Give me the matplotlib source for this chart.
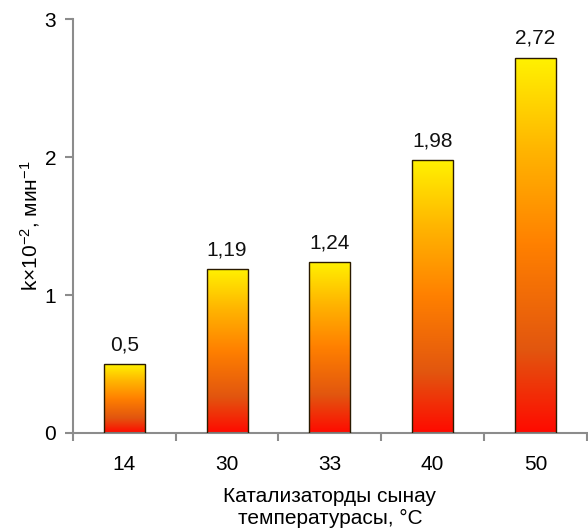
import numpy as np
import matplotlib
matplotlib.use('Agg')
import matplotlib.pyplot as plt
from matplotlib.colors import LinearSegmentedColormap

plt.rcParams['font.family'] = ['Liberation Sans', 'DejaVu Sans']
plt.rcParams['mathtext.fontset'] = 'custom'
plt.rcParams['mathtext.rm'] = 'Liberation Sans'
plt.rcParams['mathtext.it'] = 'Liberation Sans'

temps = ['14', '30', '33', '40', '50']
k_values = [0.5, 1.19, 1.24, 1.98, 2.72]
value_labels = ['0,5', '1,19', '1,24', '1,98', '2,72']

# красный снизу -> оранжевый -> жёлтый сверху
grad = LinearSegmentedColormap.from_list('fire', [
    (0.0, '#ff0a00'),
    (0.22, '#e2560f'),
    (0.5, '#ff8000'),
    (0.75, '#ffb400'),
    (1.0, '#fff200'),
])

fig = plt.figure(figsize=(5.88, 5.29), dpi=100)
ax = fig.add_axes([0.124, 0.1815, 0.874, 0.7825])

x = np.arange(len(temps))
bars = ax.bar(x, k_values, width=0.4, facecolor='none', edgecolor='#2a1a00', linewidth=1.0, zorder=3)

col = np.linspace(0, 1, 256).reshape(-1, 1)
for b in bars:
    x0, y0 = b.get_x(), b.get_y()
    w, h = b.get_width(), b.get_height()
    im = ax.imshow(col, cmap=grad, origin='lower', aspect='auto',
                   extent=[x0, x0 + w, y0, y0 + h], zorder=2)
    im.set_clip_path(b)

for xi, v, s in zip(x, k_values, value_labels):
    ax.annotate(s, (xi, v), xytext=(0, 7), textcoords='offset points',
                ha='center', va='bottom', fontsize=15, color='#111111')

ax.set_xlim(-0.5, len(temps) - 0.5)
ax.set_ylim(0, 3)
ax.set_yticks([0, 1, 2, 3])
ax.set_xticks(x)
ax.set_xticklabels(temps)
ax.set_xticks(np.arange(-0.5, len(temps)), minor=True)
ax.tick_params(axis='x', which='major', length=0, labelsize=15, pad=16)
ax.tick_params(axis='x', which='minor', length=6, width=1.5, color='#8c8c8c', direction='out')
ax.tick_params(axis='y', length=6, width=1.5, color='#8c8c8c', labelsize=15, pad=6)

for side in ['top', 'right']:
    ax.spines[side].set_visible(False)
for side in ['left', 'bottom']:
    ax.spines[side].set_color('#8c8c8c')
    ax.spines[side].set_linewidth(1.5)

ax.set_ylabel(r'k×10$^{-2}$, мин$^{-1}$', fontsize=15, labelpad=2)
ax.set_xlabel('Катализаторды сынау\nтемпературасы, °C', fontsize=15, labelpad=9, linespacing=1.2)

fig.savefig('out.png', dpi=100)
